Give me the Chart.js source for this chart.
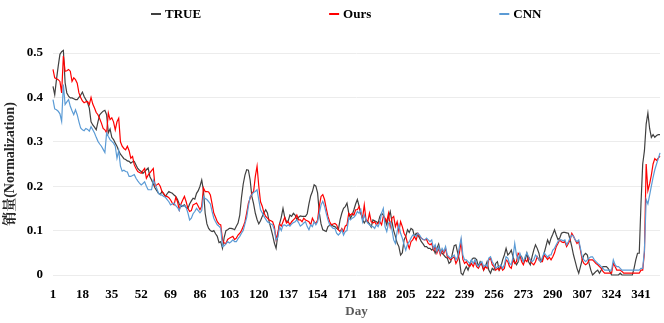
<!DOCTYPE html>
<html><head><meta charset="utf-8">
<script src="https://cdn.jsdelivr.net/npm/chart.js@4.4.1/dist/chart.umd.min.js"></script>
<style>html,body{margin:0;padding:0;background:#fff}#wrap{width:664px;height:323px}</style>
</head><body><div id="wrap"><canvas id="c" width="664" height="323"></canvas></div>
<script>
const dayCount = 352;
const days = [];
for (let i = 1; i <= dayCount; i++) days.push(String(i));
const tickLabels = ['1','18','35','52','69','86','103','120','137','154','171','188','205','222','239','256','273','290','307','324','341'];
const seriesNames = ['TRUE', 'Ours', 'CNN'];

const trueValues = [
0.425,0.406,0.44,0.47,0.497,0.503,0.506,0.433,0.41,0.403,
0.399,0.399,0.397,0.395,0.395,0.4,0.405,0.412,0.402,0.395,
0.388,0.376,0.345,0.338,0.333,0.327,0.345,0.361,0.365,0.369,
0.371,0.361,0.32,0.329,0.31,0.305,0.297,0.29,0.28,0.272,
0.267,0.262,0.26,0.257,0.256,0.252,0.255,0.256,0.248,0.24,
0.236,0.233,0.229,0.233,0.237,0.241,0.222,0.214,0.205,0.196,
0.19,0.184,0.181,0.188,0.182,0.177,0.183,0.188,0.186,0.184,
0.18,0.177,0.17,0.16,0.154,0.156,0.158,0.152,0.15,0.16,
0.167,0.173,0.171,0.184,0.19,0.2,0.214,0.19,0.139,0.115,
0.105,0.1,0.098,0.1,0.093,0.087,0.073,0.075,0.06,0.085,
0.1,0.102,0.105,0.105,0.104,0.102,0.11,0.117,0.135,0.175,
0.205,0.225,0.237,0.236,0.214,0.177,0.16,0.139,0.125,0.115,
0.122,0.132,0.14,0.147,0.14,0.12,0.105,0.09,0.072,0.06,
0.09,0.115,0.13,0.15,0.13,0.12,0.122,0.135,0.132,0.139,
0.135,0.125,0.13,0.133,0.132,0.132,0.132,0.138,0.16,0.178,
0.188,0.203,0.2,0.185,0.14,0.115,0.102,0.1,0.098,0.109,
0.112,0.113,0.11,0.109,0.105,0.102,0.124,0.139,0.15,0.154,
0.162,0.14,0.128,0.135,0.147,0.16,0.17,0.155,0.14,0.125,
0.117,0.124,0.12,0.115,0.108,0.124,0.122,0.12,0.117,0.132,
0.139,0.135,0.125,0.113,0.13,0.143,0.12,0.1,0.087,0.072,
0.064,0.045,0.05,0.079,0.087,0.102,0.096,0.105,0.102,0.087,
0.094,0.09,0.083,0.075,0.07,0.064,0.064,0.06,0.06,0.056,
0.06,0.049,0.06,0.07,0.053,0.049,0.045,0.04,0.038,0.026,
0.03,0.049,0.066,0.068,0.05,0.034,0.004,0,0.011,0.019,
0.011,0.023,0.034,0.038,0.038,0.034,0.019,0.03,0.023,0.011,
0.019,0.03,0.011,0.004,0.015,0.011,0.026,0.03,0.011,0.019,
0.034,0.045,0.06,0.045,0.049,0.056,0.041,0.03,0.023,0.03,
0.045,0.041,0.03,0.034,0.049,0.03,0.023,0.041,0.056,0.068,
0.06,0.049,0.03,0.034,0.049,0.064,0.079,0.07,0.083,0.092,
0.102,0.09,0.08,0.083,0.094,0.096,0.096,0.095,0.094,0.08,
0.064,0.045,0.03,0.015,0.004,0.019,0.034,0.045,0.049,0.045,
0.026,0.011,0,0.004,0.008,0.011,0.004,0.011,0.019,0.019,
0.019,0.015,0.008,0,0,0,0,0,0.004,0,
0,0,0,0,0,0,0.015,0.034,0.049,0.049,
0.16,0.25,0.28,0.34,0.365,0.33,0.31,0.316,0.31,0.314,
0.316,0.316
];

const oursValues = [
0.463,0.444,0.442,0.44,0.436,0.41,0.493,0.459,0.46,0.463,
0.459,0.436,0.444,0.44,0.432,0.41,0.4,0.392,0.388,0.39,
0.391,0.384,0.4,0.385,0.376,0.366,0.361,0.352,0.342,0.33,
0.327,0.32,0.365,0.35,0.354,0.345,0.327,0.345,0.353,0.3,
0.29,0.285,0.282,0.29,0.28,0.263,0.267,0.248,0.24,0.233,
0.231,0.229,0.235,0.24,0.218,0.225,0.23,0.235,0.24,0.2,
0.203,0.206,0.2,0.188,0.184,0.177,0.177,0.174,0.169,0.162,
0.158,0.175,0.165,0.147,0.16,0.169,0.177,0.165,0.15,0.143,
0.145,0.158,0.16,0.162,0.155,0.147,0.155,0.196,0.188,0.188,
0.187,0.18,0.16,0.139,0.13,0.12,0.115,0.113,0.079,0.072,
0.071,0.08,0.083,0.085,0.087,0.08,0.083,0.09,0.094,0.1,
0.109,0.12,0.14,0.162,0.173,0.184,0.188,0.222,0.245,0.2,
0.165,0.155,0.14,0.132,0.128,0.124,0.122,0.12,0.109,0.08,
0.095,0.115,0.11,0.12,0.13,0.117,0.12,0.113,0.12,0.124,
0.128,0.135,0.124,0.124,0.12,0.128,0.124,0.122,0.12,0.113,
0.128,0.12,0.116,0.124,0.155,0.177,0.181,0.17,0.15,0.132,
0.12,0.113,0.115,0.116,0.113,0.102,0.098,0.105,0.098,0.11,
0.113,0.139,0.135,0.139,0.135,0.147,0.147,0.154,0.139,0.128,
0.158,0.124,0.12,0.139,0.12,0.117,0.12,0.113,0.117,0.12,
0.113,0.132,0.128,0.12,0.139,0.109,0.128,0.132,0.109,0.12,
0.098,0.12,0.109,0.094,0.087,0.071,0.06,0.075,0.079,0.087,
0.079,0.094,0.087,0.083,0.08,0.079,0.08,0.071,0.068,0.071,
0.056,0.064,0.049,0.06,0.045,0.056,0.049,0.06,0.041,0.038,
0.034,0.038,0.041,0.026,0.034,0.05,0.075,0.035,0.026,0.03,
0.023,0.019,0.026,0.019,0.03,0.019,0.015,0.023,0.026,0.011,
0.019,0.015,0.034,0.038,0.023,0.019,0.011,0.015,0.011,0.019,
0.011,0.015,0.034,0.03,0.019,0.015,0.034,0.026,0.03,0.049,
0.045,0.03,0.023,0.034,0.03,0.041,0.034,0.026,0.023,0.03,
0.041,0.034,0.03,0.03,0.045,0.04,0.035,0.04,0.034,0.041,
0.05,0.064,0.071,0.079,0.075,0.073,0.075,0.064,0.071,0.079,
0.094,0.087,0.079,0.071,0.075,0.056,0.034,0.026,0.023,0.026,
0.034,0.034,0.034,0.03,0.026,0.023,0.019,0.015,0.008,0.004,
0.004,0.004,0.004,0.004,0.026,0.019,0.011,0.011,0.011,0.008,
0.004,0.004,0.004,0.004,0.004,0.004,0.004,0.004,0.004,0.004,
0.011,0.011,0.05,0.25,0.19,0.205,0.225,0.25,0.262,0.258,
0.263,0.268
];

const cnnValues = [
0.395,0.374,0.372,0.369,0.363,0.346,0.429,0.384,0.39,0.395,
0.38,0.37,0.361,0.372,0.361,0.345,0.331,0.327,0.325,0.33,
0.328,0.324,0.334,0.327,0.32,0.31,0.301,0.295,0.29,0.283,
0.276,0.32,0.312,0.305,0.301,0.297,0.29,0.263,0.28,0.245,
0.234,0.236,0.233,0.232,0.222,0.222,0.224,0.226,0.218,0.212,
0.207,0.203,0.206,0.21,0.2,0.192,0.192,0.192,0.214,0.205,
0.195,0.184,0.181,0.18,0.177,0.175,0.17,0.165,0.158,0.16,
0.162,0.156,0.152,0.145,0.158,0.154,0.156,0.152,0.14,0.124,
0.128,0.138,0.143,0.15,0.145,0.14,0.145,0.177,0.172,0.17,
0.165,0.16,0.143,0.128,0.12,0.113,0.11,0.105,0.064,0.066,
0.07,0.075,0.072,0.075,0.079,0.075,0.075,0.082,0.087,0.094,
0.1,0.115,0.13,0.155,0.177,0.181,0.186,0.188,0.192,0.169,
0.147,0.14,0.132,0.126,0.12,0.117,0.115,0.113,0.102,0.079,
0.085,0.109,0.1,0.112,0.113,0.11,0.113,0.11,0.115,0.118,
0.12,0.124,0.118,0.11,0.113,0.117,0.12,0.109,0.102,0.113,
0.109,0.12,0.113,0.12,0.139,0.158,0.166,0.155,0.139,0.124,
0.113,0.109,0.105,0.105,0.094,0.09,0.094,0.102,0.09,0.098,
0.1,0.128,0.124,0.128,0.13,0.135,0.143,0.139,0.147,0.12,
0.135,0.124,0.117,0.113,0.11,0.109,0.105,0.113,0.109,0.12,
0.139,0.15,0.109,0.098,0.117,0.12,0.102,0.079,0.071,0.098,
0.113,0.094,0.083,0.068,0.056,0.07,0.075,0.083,0.09,0.09,
0.087,0.094,0.09,0.083,0.08,0.079,0.083,0.079,0.075,0.079,
0.06,0.068,0.053,0.064,0.049,0.06,0.053,0.064,0.045,0.041,
0.038,0.041,0.045,0.034,0.041,0.064,0.083,0.045,0.034,0.034,
0.03,0.026,0.034,0.026,0.034,0.023,0.019,0.026,0.03,0.019,
0.023,0.019,0.038,0.041,0.03,0.023,0.015,0.019,0.019,0.023,
0.015,0.023,0.041,0.038,0.026,0.023,0.04,0.071,0.045,0.034,
0.049,0.038,0.03,0.041,0.05,0.041,0.034,0.03,0.034,0.045,
0.041,0.034,0.03,0.04,0.05,0.045,0.04,0.045,0.045,0.056,
0.06,0.068,0.075,0.079,0.079,0.077,0.079,0.068,0.075,0.083,
0.09,0.087,0.079,0.075,0.079,0.06,0.041,0.034,0.03,0.034,
0.038,0.041,0.041,0.034,0.03,0.026,0.023,0.019,0.015,0.011,
0.011,0.011,0.011,0.011,0.034,0.023,0.019,0.019,0.015,0.011,
0.011,0.011,0.011,0.011,0.011,0.011,0.011,0.011,0.011,0.011,
0.015,0.015,0.056,0.17,0.16,0.18,0.2,0.22,0.237,0.25,
0.262,0.275
];

const FONT = '"Liberation Serif", "Times New Roman", "Noto Serif CJK SC", "Noto Sans CJK SC", serif';

const topLegend = {
  id: 'topLegend',
  afterDraw(chart) {
    const ctx = chart.ctx;
    ctx.save();
    ctx.font = 'bold 13px ' + FONT;
    ctx.textBaseline = 'middle';
    ctx.textAlign = 'left';
    let x = 151;
    const y = 14;
    chart.data.datasets.forEach(ds => {
      ctx.strokeStyle = ds.borderColor;
      ctx.lineWidth = 2;
      ctx.beginPath();
      ctx.moveTo(x, y);
      ctx.lineTo(x + 10, y);
      ctx.stroke();
      ctx.fillStyle = '#000';
      ctx.fillText(ds.label, x + 14, y + 1);
      x += 14 + ctx.measureText(ds.label).width + 128;
    });
    ctx.restore();
  }
};

new Chart(document.getElementById('c'), {
  type: 'line',
  data: {
    labels: days,
    datasets: [
      { label: seriesNames[0], data: trueValues, borderColor: '#404040', backgroundColor: '#404040', order: 3 },
      { label: seriesNames[1], data: oursValues, borderColor: '#ff0000', backgroundColor: '#ff0000', order: 2 },
      { label: seriesNames[2], data: cnnValues, borderColor: '#5b9bd5', backgroundColor: '#5b9bd5', order: 1 }
    ]
  },
  options: {
    responsive: false,
    animation: false,
    devicePixelRatio: 1,
    clip: false,
    layout: { padding: { left: 0, right: 4, top: 53, bottom: 0 } },
    elements: {
      point: { radius: 0, hoverRadius: 0 },
      line: { borderWidth: 1.2, tension: 0, fill: false }
    },
    plugins: { legend: { display: false }, tooltip: { enabled: false } },
    scales: {
      x: {
        type: 'category',
        offset: false,
        grid: { display: false },
        border: { display: false },
        ticks: {
          autoSkip: false, maxRotation: 0, minRotation: 0, padding: 4,
          color: '#000', font: { family: FONT, size: 13, weight: 'bold' }
        },
        afterBuildTicks(scale) {
          scale.ticks = scale.ticks.filter(t => tickLabels.includes(days[t.value]));
        },
        afterFit(scale) { scale.height = 48; },
        title: {
          display: true, text: 'Day', color: '#595959',
          font: { family: FONT, size: 13, weight: 'bold' },
          padding: { top: 0, bottom: 4 }
        }
      },
      y: {
        min: 0, max: 0.5,
        grid: { color: '#ececec', lineWidth: 1, drawTicks: false },
        border: { display: false },
        ticks: {
          stepSize: 0.1, padding: 10, color: '#000',
          font: { family: FONT, size: 13, weight: 'bold' },
          callback: v => String(Math.round(v * 10) / 10)
        },
        afterFit(scale) { scale.width = 53; },
        title: {
          display: true, text: '销量(Normalization)', color: '#262626',
          font: { family: FONT, size: 14, weight: 'bold' },
          padding: { top: 2, bottom: 0 }
        }
      }
    }
  },
  plugins: [topLegend]
});
</script>
</body></html>
